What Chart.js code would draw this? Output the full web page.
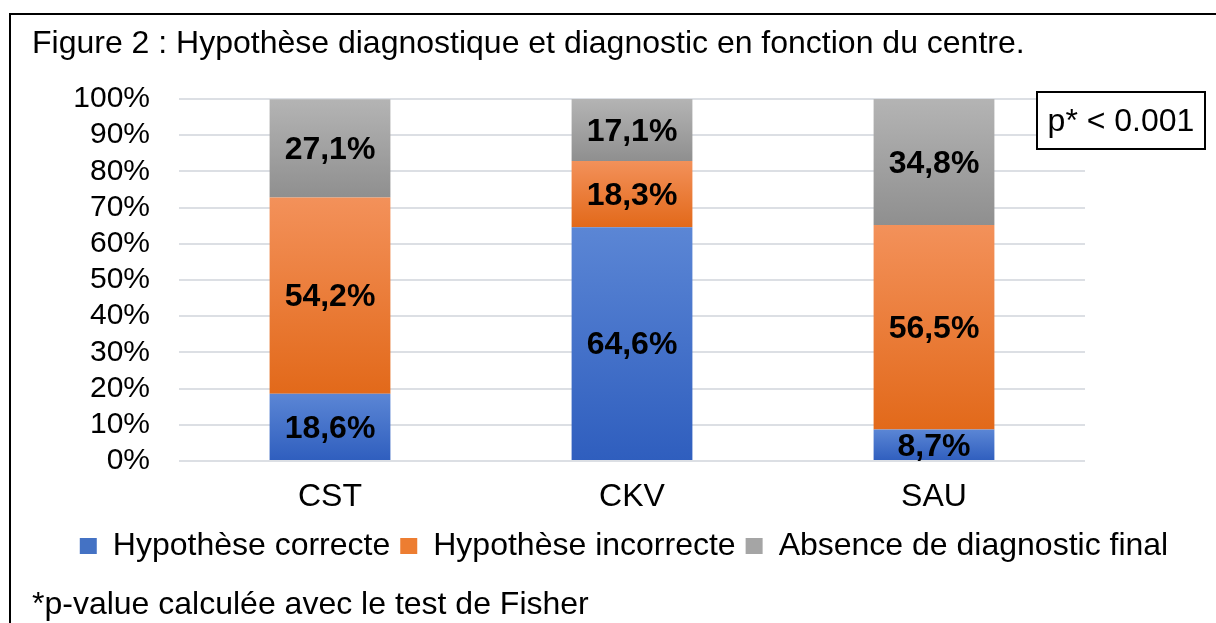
<!DOCTYPE html>
<html><head><meta charset="utf-8">
<script src="https://cdn.jsdelivr.net/npm/chart.js@4/dist/chart.umd.min.js"></script>
<style>html,body{margin:0;padding:0;background:#fff;overflow:hidden}</style>
</head><body>
<canvas id="c" width="1216" height="623"></canvas>
<script>
const categories = ['CST', 'CKV', 'SAU'];
const seriesNames = ['Hypothèse correcte', 'Hypothèse incorrecte', 'Absence de diagnostic final'];
const correcte = [18.6, 64.6, 8.7];
const incorrecte = [54.2, 18.3, 56.5];
const absence = [27.1, 17.1, 34.8];
const yTickValues = [0, 10, 20, 30, 40, 50, 60, 70, 80, 90, 100];
const titleText = 'Figure 2 : Hypothèse diagnostique et diagnostic en fonction du centre.';
const pText = 'p* < 0.001';
const footnoteText = '*p-value calculée avec le test de Fisher';

const FONT = "'Liberation Sans', Arial, sans-serif";
const FS = 32;
const TICK_FS = 30;
const seriesData = [correcte, incorrecte, absence];
const flat = ['#4472c4', '#ed7d31', '#a5a5a5'];
const stops = [['#5b86d5', '#2f5ebe'], ['#f3915a', '#e2691a'], ['#b4b4b4', '#8f8f8f']];

function bg(i) {
  return function (ctx) {
    const chart = ctx.chart;
    const y = chart.scales && chart.scales.y;
    if (ctx.type !== 'data' || !y || !chart.chartArea) return flat[i];
    const j = ctx.dataIndex;
    let base = 0;
    for (let k = 0; k < i; k++) base += seriesData[k][j];
    const top = base + seriesData[i][j];
    const y0 = y.getPixelForValue(top), y1 = y.getPixelForValue(base);
    if (!isFinite(y0) || !isFinite(y1) || y0 === y1) return flat[i];
    const g = chart.ctx.createLinearGradient(0, y0, 0, y1);
    g.addColorStop(0, stops[i][0]);
    g.addColorStop(1, stops[i][1]);
    return g;
  };
}

const decor = {
  id: 'decor',
  beforeDraw(chart) {
    const c = chart.ctx;
    c.save();
    c.fillStyle = '#fff';
    c.fillRect(0, 0, chart.width, chart.height);
    c.restore();
  },
  afterDatasetsDraw(chart) {
    const c = chart.ctx;
    c.save();
    c.font = 'bold ' + FS + 'px ' + FONT;
    c.fillStyle = '#000';
    c.textAlign = 'center';
    c.textBaseline = 'middle';
    chart.data.datasets.forEach((ds, i) => {
      const meta = chart.getDatasetMeta(i);
      meta.data.forEach((el, j) => {
        const v = ds.data[j];
        const txt = v.toFixed(1).replace('.', ',') + '%';
        c.fillText(txt, el.x, (el.y + el.base) / 2 + 2);
      });
    });
    c.restore();
  },
  afterDraw(chart) {
    const c = chart.ctx;
    c.save();
    c.strokeStyle = '#000';
    c.lineWidth = 2;
    c.strokeRect(10, 14, 1300, 700);
    c.fillStyle = '#fff';
    c.fillRect(1037, 92, 168, 57);
    c.strokeRect(1037, 92, 168, 57);
    c.fillStyle = '#000';
    c.font = FS + 'px ' + FONT;
    c.textAlign = 'center';
    c.textBaseline = 'middle';
    c.fillText(pText, 1121, 122);
    c.textAlign = 'left';
    c.fillText(footnoteText, 32, 605);
    c.restore();
  }
};

Chart.defaults.color = '#000';
Chart.defaults.font.family = FONT;

new Chart(document.getElementById('c'), {
  type: 'bar',
  data: {
    labels: categories,
    datasets: seriesNames.map((name, i) => ({
      label: name,
      data: seriesData[i],
      backgroundColor: bg(i),
      borderWidth: 0,
      categoryPercentage: 1.0,
      barPercentage: 0.4
    }))
  },
  options: {
    responsive: false,
    animation: false,
    devicePixelRatio: 1,
    layout: { padding: { left: 32, right: 0, top: 0, bottom: 51 } },
    plugins: {
      title: {
        display: true,
        text: titleText,
        align: 'start',
        color: '#000',
        font: { size: FS, weight: 'normal', family: FONT },
        padding: { top: 25, bottom: 35.6 }
      },
      legend: {
        position: 'bottom',
        labels: {
          boxWidth: 17,
          boxHeight: 16,
          padding: 10,
          color: '#000',
          font: { size: FS, family: FONT },
          generateLabels(chart) {
            return chart.data.datasets.map((ds, i) => ({
              text: ds.label,
              fillStyle: flat[i],
              strokeStyle: flat[i],
              lineWidth: 0,
              hidden: false,
              datasetIndex: i
            }));
          }
        }
      },
      tooltip: { enabled: false }
    },
    scales: {
      x: {
        stacked: true,
        grid: { display: false, drawTicks: false },
        border: { display: false },
        ticks: { font: { size: FS, family: FONT }, color: '#000', padding: 17 },
        afterFit(s) { s.height = 59; }
      },
      y: {
        stacked: true,
        min: 0,
        max: 100,
        afterBuildTicks(s) { s.ticks = yTickValues.map(v => ({ value: v })); },
        grid: { color: '#dcdfe4', lineWidth: 2, drawTicks: false },
        border: { display: false },
        ticks: {
          font: { size: TICK_FS, family: FONT },
          color: '#000',
          padding: 29,
          autoSkip: false,
          callback: v => v + '%'
        },
        afterFit(s) { s.width = 147; }
      },
      yr: {
        position: 'right',
        display: true,
        grid: { display: false, drawTicks: false },
        border: { display: false },
        ticks: { display: false },
        afterFit(s) { s.width = 131; }
      }
    }
  },
  plugins: [decor]
});
</script>
</body></html>
